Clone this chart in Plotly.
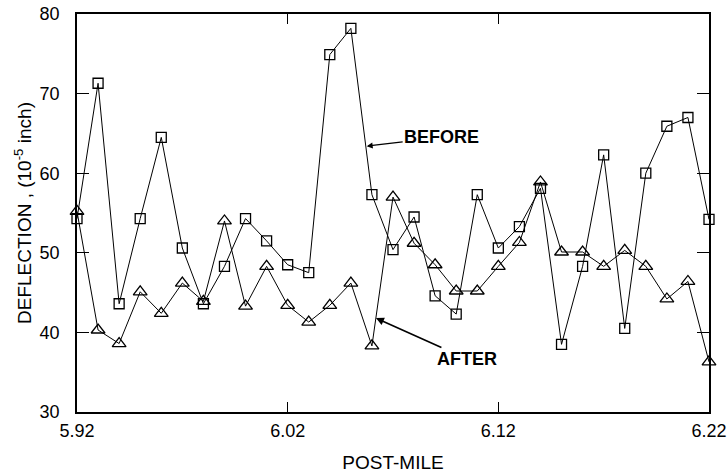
import plotly.graph_objects as go

post_mile = [5.92, 5.93, 5.94, 5.95, 5.96, 5.97, 5.98, 5.99, 6.00, 6.01,
             6.02, 6.03, 6.04, 6.05, 6.06, 6.07, 6.08, 6.09, 6.10, 6.11,
             6.12, 6.13, 6.14, 6.15, 6.16, 6.17, 6.18, 6.19, 6.20, 6.21, 6.22]

before = [54.3, 71.3, 43.6, 54.3, 64.5, 50.6, 43.6, 48.3, 54.3, 51.5,
          48.5, 47.5, 74.9, 78.2, 57.3, 50.4, 54.5, 44.6, 42.3, 57.3,
          50.6, 53.3, 58.1, 38.5, 48.3, 62.3, 40.5, 60.0, 65.9, 67.0, 54.2]

after = [55.2, 40.3, 38.6, 45.1, 42.4, 46.2, 43.9, 54.0, 43.3, 48.3,
         43.4, 41.3, 43.4, 46.2, 38.3, 57.0, 51.2, 48.5, 45.2, 45.2,
         48.3, 51.3, 58.9, 50.1, 50.1, 48.3, 50.3, 48.3, 44.2, 46.4, 36.3]

x_tick_vals = [5.92, 6.02, 6.12, 6.22]
x_tick_text = ["5.92", "6.02", "6.12", "6.22"]
y_tick_vals = [30, 40, 50, 60, 70, 80]

FONT = "Liberation Sans, Arial, sans-serif"

fig = go.Figure()
fig.add_trace(go.Scatter(
    x=post_mile, y=after, mode="lines+markers", name="AFTER",
    line=dict(color="black", width=1),
    marker=dict(symbol="triangle-up-open", size=12, color="black",
                line=dict(width=1.3, color="black")),
    cliponaxis=False, showlegend=False))
fig.add_trace(go.Scatter(
    x=post_mile, y=before, mode="lines+markers", name="BEFORE",
    line=dict(color="black", width=1),
    marker=dict(symbol="square-open", size=10, color="black",
                line=dict(width=1.3, color="black")),
    cliponaxis=False, showlegend=False))

fig.add_annotation(x=6.0575, y=63.4, xref="x", yref="y", text="<b>BEFORE</b>",
                   showarrow=True, ax=75, ay=-9, arrowhead=2, arrowsize=1,
                   arrowwidth=1.2, arrowcolor="black", standoff=0,
                   font=dict(family=FONT, size=18, color="black"))
fig.add_annotation(x=6.0619, y=41.8, xref="x", yref="y", text="<b>AFTER</b>",
                   showarrow=True, ax=91, ay=41, arrowhead=2, arrowsize=1,
                   arrowwidth=1.6, arrowcolor="black", standoff=0,
                   font=dict(family=FONT, size=18, color="black"))

fig.update_layout(
    width=727, height=473,
    margin=dict(l=77, r=18, t=14, b=61),
    paper_bgcolor="white", plot_bgcolor="white",
    font=dict(family=FONT, size=18, color="black"),
)
fig.update_xaxes(
    range=[5.92, 6.22], tickvals=x_tick_vals, ticktext=x_tick_text,
    showgrid=False, zeroline=False, automargin=False,
    showline=True, linecolor="black", linewidth=1.5, mirror="allticks",
    ticks="inside", ticklen=10, tickwidth=1, tickcolor="black",
    ticklabelstandoff=2,
    tickfont=dict(size=18),
    title=dict(text="POST-MILE", font=dict(size=19), standoff=23),
)
fig.update_yaxes(
    range=[30, 80], tickvals=y_tick_vals,
    showgrid=False, zeroline=False, automargin=False,
    showline=True, linecolor="black", linewidth=1.5, mirror="allticks",
    ticks="inside", ticklen=12, tickwidth=1, tickcolor="black",
    ticklabelstandoff=12,
    tickfont=dict(size=18),
    title=dict(text="DEFLECTION , (10<sup>-5</sup> inch)", font=dict(size=19), standoff=3),
)

fig.write_html("out.html", config={"displayModeBar": False},
               post_script="document.body.style.margin='0px';document.body.style.overflow='hidden';")
